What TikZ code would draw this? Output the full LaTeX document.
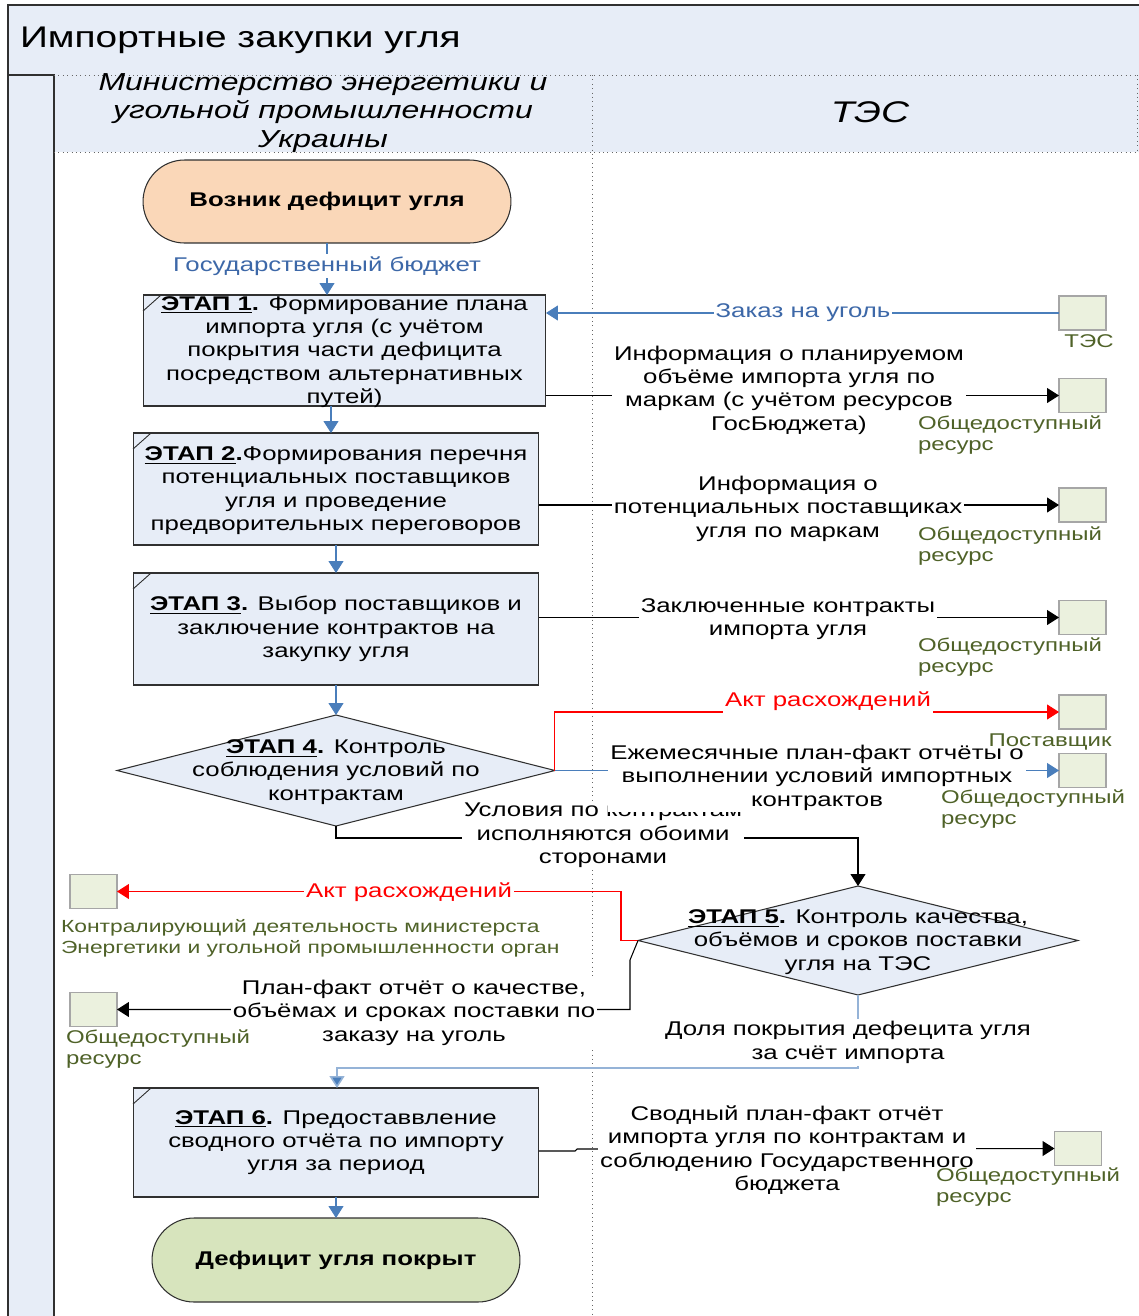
\documentclass[tikz,border=0pt]{standalone}
\usepackage{fontspec}
\setmainfont{Liberation Sans}[FakeStretch=1.30]
\usetikzlibrary{shapes.geometric,arrows.meta}
\definecolor{lb}{HTML}{E7EDF7}
\definecolor{peach}{HTML}{FAD7B8}
\definecolor{lgreen}{HTML}{D7E4BD}
\definecolor{resfill}{HTML}{EBF1DE}
\definecolor{resgreen}{HTML}{4F6228}
\definecolor{bl}{HTML}{4A7EBB}
\definecolor{bltext}{HTML}{3D68A8}
\definecolor{lblue}{HTML}{95B3D7}
\definecolor{frame}{HTML}{303030}
\definecolor{redc}{HTML}{FF0000}
\begin{document}
\begin{tikzpicture}[x=0.02cm,y=-0.02cm,
  every node/.style={inner sep=0pt,outer sep=0pt},
  main/.style={font=\fontsize{11.3}{13.3}\selectfont,align=center},
  small/.style={font=\fontsize{10.5}{11.9}\selectfont,text=resgreen,align=left},
  lbl/.style={main,fill=white,inner sep=1.2pt},
  stagebox/.style={draw=frame,fill=lb,line width=0.6pt,minimum width=8.12cm},
  dia/.style={diamond,draw=frame,fill=lb,line width=0.6pt},
  term/.style={draw=frame,line width=0.6pt,minimum width=7.36cm,font=\fontsize{11.3}{13.3}\selectfont\bfseries},
  res/.style={draw=black!35,fill=resfill,line width=0.6pt,minimum width=0.94cm,minimum height=0.68cm},
  tipb/.style={-{Triangle[length=0.24cm,width=0.3cm]}},
  blarrow/.style={draw=bl,line width=0.6pt,tipb},
  bkarrow/.style={draw=black,line width=0.6pt,tipb},
  rdarrow/.style={draw=redc,line width=0.6pt,tipb},
  lbarrow/.style={draw=lblue,line width=0.9pt,-{Triangle[length=0.24cm,width=0.3cm,fill=bl]}},
  lanedot/.style={draw=black!60,dotted,line width=0.5pt}
]
\useasboundingbox (0,0) rectangle (1139,1316);
\fill[white] (0,0) rectangle (1139,1316);
% pool header
\fill[lb] (8,5) rectangle (1150,75);
\fill[lb] (8,75) rectangle (54,1320);
\fill[lb] (54,75) rectangle (1150,152);
\draw[frame,line width=0.6pt] (1150,5) -- (8,5) -- (8,1320);
\draw[frame,line width=0.6pt] (8,75) -- (54,75) -- (54,1320);
\draw[lanedot] (54,75) -- (1150,75);
\draw[lanedot] (54,152) -- (1150,152);
\draw[lanedot] (592,75) -- (592,1320);
\draw[lanedot] (1137,75) -- (1137,152);
\node[anchor=west,font=\fontsize{17}{20}\selectfont] (title) at (20,40) {Импортные закупки угля};
\node[align=center,font=\fontsize{14}{16.4}\selectfont\itshape] (lane1) at (323,113) {Министерство энергетики и\\угольной промышленности\\Украины};
\node[font=\fontsize{17}{19}\selectfont\itshape] (lane2) at (870,112) {ТЭС};

% shapes
\node[term,fill=peach,rounded corners=0.83cm,minimum height=1.66cm] (start) at (327,201.5) {Возник дефицит угля};
\node[stagebox,minimum width=8.06cm,minimum height=2.22cm] (e1) at (344.5,350.5) {};
\node[stagebox,minimum height=2.24cm] (e2) at (336,489) {};
\node[stagebox,minimum height=2.24cm] (e3) at (336,629) {};
\node[dia,minimum width=8.76cm,minimum height=2.22cm] (d4) at (336,770.5) {};
\node[dia,minimum width=8.8cm,minimum height=2.18cm] (d5) at (858,940.5) {};
\node[stagebox,minimum height=2.18cm] (e6) at (336,1142.5) {};
\node[term,fill=lgreen,rounded corners=0.84cm,minimum height=1.68cm] (fin) at (336,1260) {Дефицит угля покрыт};
\foreach \b in {e1,e2,e3,e6}{
  \draw[frame,line width=0.5pt] ([yshift=-0.32cm]\b.north west) -- ([xshift=0.36cm]\b.north west);
}

% resources
\node[res] (tes) at (1082.5,313) {};
\node[res] (r1) at (1082.5,395.5) {};
\node[res] (r2) at (1082.5,505) {};
\node[res] (r3) at (1082.5,617.5) {};
\node[res] (sup) at (1082.5,712) {};
\node[res] (r4) at (1082.5,770.5) {};
\node[res] (ctrl) at (93.5,891.5) {};
\node[res] (r5) at (93.5,1009.5) {};
\node[res] (r6) at (1078,1148.5) {};

% connectors
\draw[blarrow] (start.south) -- (start.south |- e1.north);
\draw[blarrow] (e1.south -| 331,0) -- (e2.north -| 331,0);
\draw[blarrow] (e2.south) -- (e3.north);
\draw[blarrow] (e3.south) -- (d4.north);
\draw[blarrow] (e6.south) -- (fin.north);
\draw[blarrow] (tes.west) -- (tes.west -| e1.east);
\draw[bkarrow] (e1.east |- r1.west) -- (r1.west);
\draw[bkarrow] (e2.east |- r2.west) -- (r2.west);
\draw[bkarrow] (e3.east |- r3.west) -- (r3.west);
\draw[rdarrow] (d4.east) |- (sup.west);
\draw[blarrow] (d4.east) -- (r4.west);
\draw[bkarrow] (d4.south) -- (d4.south |- 0,838) -| (d5.north);
\draw[rdarrow] (d5.west) -- (d5.west -| 621,0) |- (ctrl.east);
\draw[bkarrow] (d5.west) -- (630,960) |- (r5.east);
\draw[lbarrow] (d5.south) -- (d5.south |- 0,1068) -| (e6.north -| 337,0);
\draw[bkarrow] (e6.east |- 0,1151) -- (575,1151) -- (577,1149) -- (r6.west);

% texts in shapes
\node[main] (e1t) at ([yshift=-0.03cm]e1.center) {\textbf{\underline{ЭТАП 1}.} Формирование плана\\импорта угля (с учётом\\покрытия части дефицита\\посредством альтернативных\\путей)};
\node[main] (e2t) at ([yshift=-0.03cm]e2.center) {\textbf{\underline{ЭТАП 2}.}Формирования перечня\\потенциальных поставщиков\\угля и проведение\\предворительных переговоров};
\node[main] (e3t) at (e3.center) {\textbf{\underline{ЭТАП 3}.} Выбор поставщиков и\\заключение контрактов на\\закупку угля};
\node[main] (d4t) at ([yshift=-0.03cm]d4.center) {\textbf{\underline{ЭТАП 4}.} Контроль\\соблюдения условий по\\контрактам};
\node[main] (d5t) at ([yshift=-0.03cm]d5.center) {\textbf{\underline{ЭТАП 5}.} Контроль качества,\\объёмов и сроков поставки\\угля на ТЭС};
\node[main] (e6t) at (e6.center) {\textbf{\underline{ЭТАП 6}.} Предоставвление\\сводного отчёта по импорту\\угля за период};

% connector labels
\node[lbl,text=bltext] (gb) at (327,266) {Государственный бюджет};
\node[lbl,text=bltext] (zak) at (803,313) {Заказ на уголь};
\node[lbl] (l1) at (789,390) {Информация о планируемом\\объёме импорта угля по\\маркам (с учётом ресурсов\\ГосБюджета)};
\node[lbl] (l2) at (788,508.5) {Информация о\\потенциальных поставщиках\\угля по маркам};
\node[lbl] (l3) at (788,619) {Заключенные контракты\\импорта угля};
\node[lbl,text=redc] (act1) at (828,701) {Акт расхождений};
\node[lbl] (l5) at (603,835.5) {Условия по контрактам\\исполняются обоими\\сторонами};
\node[lbl] (l4) at (817,777.5) {Ежемесячные план-факт отчёты о\\выполнении условий импортных\\контрактов};
\node[lbl,text=redc] (act2) at (409,892) {Акт расхождений};
\node[lbl] (l6) at (414,1012.5) {План-факт отчёт о качестве,\\объёмах и сроках поставки по\\заказу на уголь};
\node[lbl] (l7) at (848,1042.5) {Доля покрытия дефецита угля\\за счёт импорта};
\node[lbl] (l8) at (787,1150) {Сводный план-факт отчёт\\импорта угля по контрактам и\\соблюдению Государственного\\бюджета};

% resource labels
\node[small] (tesl) at (1089,341) {ТЭС};
\node[small,anchor=west] (r1l) at (918,435) {Общедоступный\\ресурс};
\node[small,anchor=west] (r2l) at (918,546) {Общедоступный\\ресурс};
\node[small,anchor=west] (r3l) at (918,657) {Общедоступный\\ресурс};
\node[small] (supl) at (1050,742) {Поставщик};
\node[small,anchor=west] (r4l) at (941,809.5) {Общедоступный\\ресурс};
\node[small,anchor=west,font=\fontsize{10}{11.9}\selectfont] (ctrll) at (61,938) {Контралирующий деятельность министерста\\Энергетики и угольной промышленности орган};
\node[small,anchor=west] (r5l) at (66,1049) {Общедоступный\\ресурс};
\node[small,anchor=west] (r6l) at (936,1187) {Общедоступный\\ресурс};
\end{tikzpicture}
\end{document}
